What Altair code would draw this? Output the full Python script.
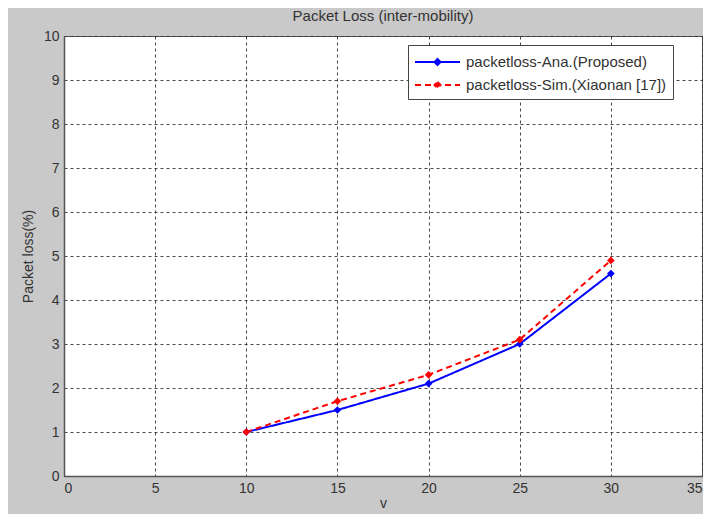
import altair as alt
import pandas as pd

v = [10, 15, 20, 25, 30]
ana = [1.0, 1.5, 2.1, 3.0, 4.6]
sim = [1.0, 1.7, 2.3, 3.1, 4.9]
series = ["packetloss-Ana.(Proposed)", "packetloss-Sim.(Xiaonan [17])"]
x_ticks = [0, 5, 10, 15, 20, 25, 30, 35]
y_ticks = [0, 1, 2, 3, 4, 5, 6, 7, 8, 9, 10]

rows = []
for i, xv in enumerate(v):
    rows.append({"v": xv, "loss": ana[i], "series": series[0], "o": 0})
for i, xv in enumerate(v):
    rows.append({"v": xv, "loss": sim[i], "series": series[1], "o": 1})
df = pd.DataFrame(rows)

FONT = "Liberation Sans"

legend_opts = dict(title=None, orient="none", legendX=344, legendY=9,
                   symbolType="M-1,0H3.5M1.25,-0.3L1.55,0L1.25,0.3L0.95,0Z",
                   symbolSize=400, symbolStrokeWidth=2,
                   labelFontSize=15, labelFont=FONT, labelColor="#333", labelLimit=0,
                   strokeColor="#444", fillColor="white", padding=6,
                   rowPadding=4, labelOffset=30)

color = alt.Color("series:N", scale=alt.Scale(domain=series, range=["#0000ff", "#ff0000"]),
                  legend=alt.Legend(**legend_opts))
dash = alt.StrokeDash("series:N", scale=alt.Scale(domain=series, range=[[1, 0], [6, 4]]),
                      legend=alt.Legend(**legend_opts))

x = alt.X("v:Q", scale=alt.Scale(domain=[0, 35], nice=False),
          axis=alt.Axis(values=x_ticks, title="v", grid=True, format="d"))
y = alt.Y("loss:Q", scale=alt.Scale(domain=[0, 10], nice=False),
          axis=alt.Axis(values=y_ticks, title="Packet loss(%)", grid=True, format="d"))

lines = alt.Chart(df).mark_line(strokeWidth=2).encode(
    x=x, y=y, color=color, strokeDash=dash, order="o:Q", detail="series:N"
)
points = alt.Chart(df).mark_point(shape="diamond", filled=True, size=60, opacity=1).encode(
    x="v:Q", y="loss:Q",
    color=alt.Color("series:N", scale=alt.Scale(domain=series, range=["#0000ff", "#ff0000"]), legend=None)
)

chart = alt.layer(lines, points).properties(
    width=638, height=440,
    title=alt.TitleParams("Packet Loss (inter-mobility)", fontSize=15, fontWeight="normal",
                          font=FONT, color="#333", offset=5),
    background="#c9c9c9",
    padding={"left": 56, "top": 28, "right": 1, "bottom": 38},
    autosize=alt.AutoSizeParams(type="none"),
).configure_view(
    fill="white", stroke="#555", strokeWidth=1
).configure_axis(
    labelFont=FONT, titleFont=FONT, labelFontSize=14, titleFontSize=14,
    labelColor="#333", titleColor="#333", titleFontWeight="normal",
    gridColor="#333", gridDash=[3, 3], gridOpacity=0.9, gridWidth=1,
    domainColor="#555", domainWidth=1.5, ticks=False, labelPadding=5
).configure_axisY(titlePadding=8).configure_axisX(titlePadding=1)

chart.save("out.html", embed_options={"renderer": "svg", "actions": False})
